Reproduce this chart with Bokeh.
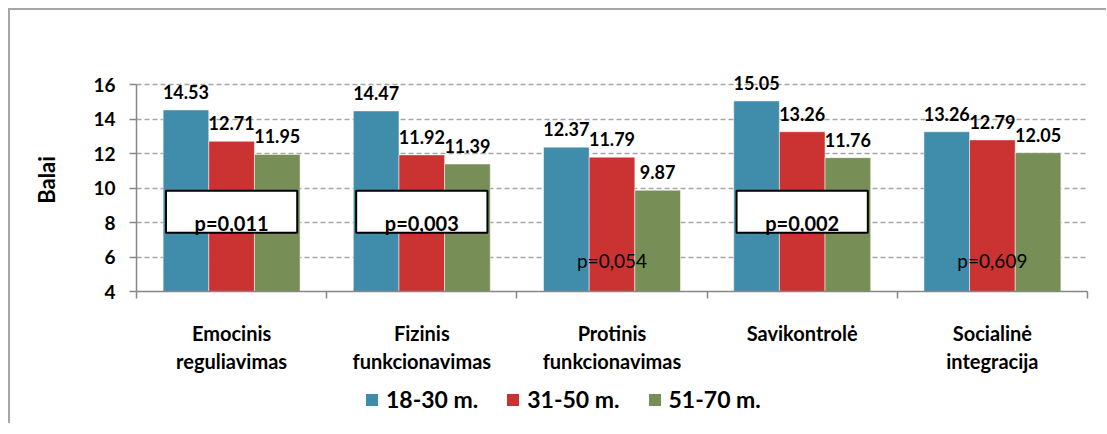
from bokeh.plotting import figure
from bokeh.layouts import column
from bokeh.models import Range1d, FixedTicker, Legend, LegendItem, ColumnDataSource
from bokeh.embed import file_html
from bokeh.resources import INLINE
from bokeh.core.properties import value

# ---- data ----
categories = ["Emocinis\nreguliavimas", "Fizinis\nfunkcionavimas",
              "Protinis\nfunkcionavimas", "Savikontrolė", "Socialinė\nintegracija"]
series_names = ["18-30 m.", "31-50 m.", "51-70 m."]
vals_18_30 = [14.53, 14.47, 12.37, 15.05, 13.26]
vals_31_50 = [12.71, 11.92, 11.79, 13.26, 12.79]
vals_51_70 = [11.95, 11.39, 9.87, 11.76, 12.05]
p_values = ["p=0,011", "p=0,003", "p=0,054", "p=0,002", "p=0,609"]
p_significant = [True, True, False, True, False]
y_ticks = [4, 6, 8, 10, 12, 14, 16]

colors = ["#3F8DAB", "#CB3232", "#778F57"]
FONT = "Lato"

n = len(categories)
centers = [i + 0.5 for i in range(n)]
y_min, y_max = y_ticks[0], y_ticks[-1]

p = figure(width=1096, height=371, output_backend="svg", toolbar_location=None,
           x_range=Range1d(0, n), y_range=Range1d(y_min, 16.93),
           min_border_left=126, min_border_right=19, min_border_top=58,
           min_border_bottom=90)
p.outline_line_color = None
p.background_fill_color = "white"
p.border_fill_color = "white"

# grid
p.xgrid.grid_line_color = None
p.ygrid.grid_line_color = "#a6a6a6"
p.ygrid.grid_line_width = 1.5
p.ygrid.grid_line_dash = "5 3"
p.ygrid.ticker = FixedTicker(ticks=y_ticks[1:])

# y axis
p.yaxis.ticker = FixedTicker(ticks=y_ticks)
p.yaxis.bounds = (y_min, y_max)
p.yaxis.major_tick_out = 7
p.yaxis.major_tick_in = 0
p.yaxis.minor_tick_out = 0
p.yaxis.axis_line_color = "#868686"
p.yaxis.axis_line_width = 1.5
p.yaxis.major_tick_line_color = "#868686"
p.yaxis.major_tick_line_width = 1.5
p.yaxis.major_label_text_font = FONT
p.yaxis.major_label_text_font_style = "bold"
p.yaxis.major_label_text_font_size = "19px"
p.yaxis.major_label_text_color = "black"
p.yaxis.major_label_standoff = 14
p.yaxis.axis_label = "Balai"
p.yaxis.axis_label_text_font = FONT
p.yaxis.axis_label_text_font_style = "bold"
p.yaxis.axis_label_text_font_size = "22px"
p.yaxis.axis_label_text_color = "black"
p.yaxis.axis_label_standoff = 30

# x axis
p.xaxis.ticker = FixedTicker(ticks=centers, minor_ticks=list(range(n + 1)))
overrides = {}
for c, lab in zip(centers, categories):
    overrides[c] = lab
p.xaxis.major_label_overrides = overrides
p.xaxis.major_tick_out = 0
p.xaxis.major_tick_in = 0
p.xaxis.minor_tick_out = 7
p.xaxis.minor_tick_in = 0
p.xaxis.minor_tick_line_color = "#868686"
p.xaxis.minor_tick_line_width = 1.5
p.xaxis.axis_line_color = "#868686"
p.xaxis.axis_line_width = 1.5
p.xaxis.major_label_text_font = FONT
p.xaxis.major_label_text_font_style = "bold"
p.xaxis.major_label_text_font_size = "20px"
p.xaxis.major_label_text_color = "black"
p.xaxis.major_label_standoff = 22

# bars
series_vals = [vals_18_30, vals_31_50, vals_51_70]
bw = 0.24
offsets = [-bw, 0.0, bw]
sources = []
for vals, col, off in zip(series_vals, colors, offsets):
    src = ColumnDataSource(dict(x=[c + off for c in centers], top=vals,
                                lab=["%.2f" % v for v in vals]))
    sources.append(src)
    p.vbar(x="x", top="top", bottom=y_min, width=bw, source=src,
           fill_color=col, line_color="white", line_width=0.5)
    p.text(x="x", y="top", text="lab", source=src, text_font=value(FONT),
           text_font_style="bold", text_font_size="18px", text_color="black",
           text_align="center", text_baseline="alphabetic", y_offset=-18)

# p-values
sig_x = [c for c, s in zip(centers, p_significant) if s]
sig_t = [t for t, s in zip(p_values, p_significant) if s]
ns_x = [c for c, s in zip(centers, p_significant) if not s]
ns_t = [t for t, s in zip(p_values, p_significant) if not s]
sig_src = ColumnDataSource(dict(x=sig_x, t=sig_t))
ns_src = ColumnDataSource(dict(x=ns_x, t=ns_t))
p.rect(x="x", y=8.62, width=0.69, height=2.43, source=sig_src,
       fill_color="white", line_color="black", line_width=2)
p.text(x="x", y=7.98, text="t", source=sig_src, text_font=value(FONT),
       text_font_style="bold", text_font_size="20px", text_color="black",
       text_align="center", text_baseline="alphabetic")
p.text(x="x", y=5.79, text="t", source=ns_src, text_font=value(FONT),
       text_font_size="19px", text_color="black",
       text_align="center", text_baseline="alphabetic")

# legend strip (separate figure underneath the chart; its bars lie far outside its view)
pl = figure(width=1096, height=42, output_backend="svg", toolbar_location=None,
            x_range=Range1d(0, n), y_range=Range1d(100, 101),
            x_axis_type=None, y_axis_type=None,
            min_border_left=126, min_border_right=19, min_border_top=0, min_border_bottom=0)
pl.outline_line_color = None
pl.grid.visible = False
pl.background_fill_color = "white"
proxies = []
for src, col in zip(sources, colors):
    proxies.append(pl.vbar(x="x", top="top", bottom=y_min, width=bw, source=src,
                           fill_color=col, line_color=None))
legend = Legend(items=[LegendItem(label=nm, renderers=[r]) for nm, r in zip(series_names, proxies)],
                orientation="horizontal", location=(228, 10), margin=0,
                glyph_width=15, glyph_height=15, label_standoff=7, spacing=27,
                padding=0, border_line_color=None, background_fill_alpha=0,
                label_text_font=FONT, label_text_font_style="bold",
                label_text_font_size="23px", label_text_color="black")
pl.add_layout(legend, "center")

layout = column(p, pl, spacing=0)
layout.styles = {"border-left": "2px solid #a6a6a6", "border-top": "2px solid #a6a6a6",
                 "margin-left": "8px", "margin-top": "8px"}

open("out.html", "w").write(file_html(layout, INLINE))
